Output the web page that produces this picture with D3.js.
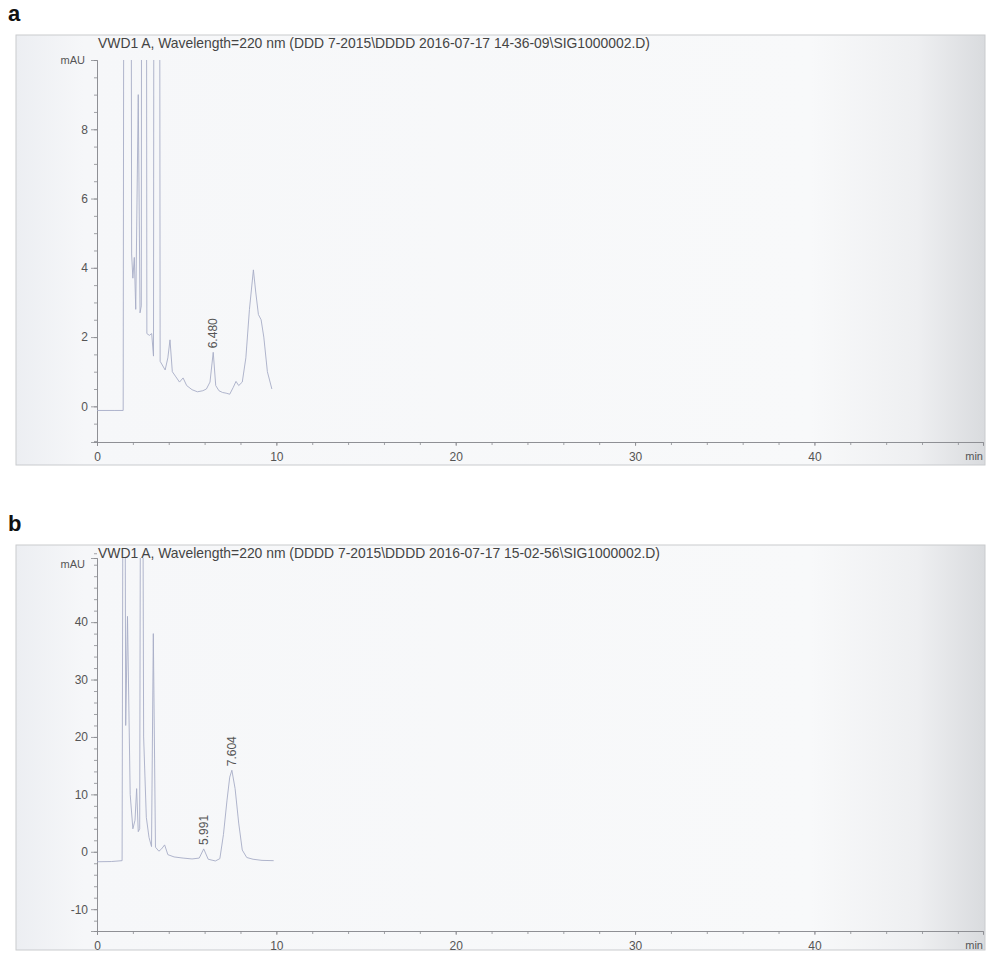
<!DOCTYPE html>
<html>
<head>
<meta charset="utf-8">
<title>Chromatograms</title>
<script src="https://cdn.jsdelivr.net/npm/d3@7"></script>
<style>
  body { margin: 0; background: #fff; }
  svg { display: block; font-family: "Liberation Sans", Arial, sans-serif; }
</style>
</head>
<body>
<div id="chart"></div>
<script>
// retention time (min), absorbance (mAU); values above the axis top are off-scale peaks
var traceA = [
  [0, -0.12], [1.0, -0.12], [1.46, -0.12], [1.70, 100], [1.93, 4.4], [2.0, 3.7],
  [2.08, 4.3], [2.16, 2.8], [2.30, 9.0], [2.40, 2.7], [2.47, 2.9], [2.60, 100],
  [2.78, 2.1], [2.92, 2.05], [3.05, 2.1], [3.15, 1.45], [3.32, 100], [3.52, 1.3],
  [3.8, 1.05], [3.95, 1.4], [4.07, 1.92], [4.2, 1.0], [4.4, 0.85], [4.6, 0.7],
  [4.8, 0.82], [5.0, 0.6], [5.3, 0.48], [5.6, 0.42], [5.9, 0.45], [6.1, 0.5],
  [6.3, 0.7], [6.48, 1.56], [6.62, 0.6], [6.8, 0.45], [7.0, 0.4], [7.2, 0.38],
  [7.4, 0.35], [7.6, 0.55], [7.75, 0.72], [7.9, 0.6], [8.1, 0.7], [8.3, 1.4],
  [8.5, 2.8], [8.72, 3.94], [8.85, 3.3], [9.0, 2.65], [9.15, 2.5], [9.3, 2.0],
  [9.5, 1.0], [9.75, 0.5]
];
var traceB = [
  [0, -1.74], [0.8, -1.7], [1.40, -1.55], [1.50, 150], [1.60, 22], [1.70, 41],
  [1.85, 10], [2.0, 4.0], [2.12, 5.5], [2.21, 11.0], [2.30, 3.5], [2.38, 4.0],
  [2.48, 150], [2.60, 20], [2.75, 6], [2.9, 2.5], [3.04, 0.9], [3.14, 38],
  [3.26, 0.8], [3.45, 0.1], [3.6, 0.5], [3.77, 1.2], [3.95, -0.5], [4.3, -0.9],
  [4.8, -1.1], [5.3, -1.25], [5.7, -1.1], [5.95, 0.5], [6.2, -1.3], [6.6, -1.6],
  [6.85, -1.2], [7.05, 3], [7.25, 9], [7.4, 13], [7.52, 14.2], [7.7, 11],
  [7.9, 5], [8.1, 0.3], [8.35, -1.0], [8.7, -1.3], [9.2, -1.5], [9.85, -1.55]
];
var peaksA = [{ t: 6.48, label: "6.480" }];
var peaksB = [{ t: 5.95, label: "5.991" }, { t: 7.52, label: "7.604" }];
var timeTicks = [0, 10, 20, 30, 40];
var yTicksA = [0, 2, 4, 6, 8];
var yTicksB = [-10, 0, 10, 20, 30, 40];
var titleA = "VWD1 A, Wavelength=220 nm (DDD 7-2015\\DDDD 2016-07-17 14-36-09\\SIG1000002.D)";
var titleB = "VWD1 A, Wavelength=220 nm (DDDD 7-2015\\DDDD 2016-07-17 15-02-56\\SIG1000002.D)";

var W = 987, H = 956;
var svg = d3.select("#chart").append("svg")
    .attr("width", W)
    .attr("height", H);

var defs = svg.append("defs");
var grad = defs.append("linearGradient")
    .attr("id", "paper")
    .attr("x1", "0").attr("x2", "1").attr("y1", "0").attr("y2", "0");
[[0, "#eceef2"], [0.07, "#f6f7f9"], [0.82, "#f8f9fa"], [0.93, "#eeeff1"], [1, "#d9dbde"]]
  .forEach(function(s) {
    grad.append("stop").attr("offset", s[0]).attr("stop-color", s[1]);
  });

function drawPanel(cfg) {
    var g = svg.append("g");

    // paper / frame
    g.append("rect")
        .attr("x", 16).attr("y", cfg.frameTop)
        .attr("width", 969).attr("height", cfg.frameBottom - cfg.frameTop)
        .style("fill", "url(#paper)")
        .style("stroke", "#c9cbce")
        .style("stroke-width", 1);

    svg.append("text")
        .attr("x", 8).attr("y", cfg.frameTop - 14)
        .style("font-size", "22px").style("font-weight", "bold")
        .style("fill", "#111")
        .text(cfg.letter);

    var x = d3.scaleLinear().domain([0, 49.4]).range([97, 983]);
    var y = d3.scaleLinear().domain(cfg.yDomain).range([cfg.bottom, cfg.top]);

    g.append("text")
        .attr("x", 98).attr("y", cfg.frameTop + 13)
        .style("font-size", "13.9px").style("fill", "#444")
        .text(cfg.title);

    // axes
    var fmt = function(d) { return String(d); };
    var yAxis = d3.axisLeft(y).tickValues(cfg.yTicks).tickSize(6).tickPadding(3).tickFormat(fmt);
    var yMinor = d3.axisLeft(y).tickValues(d3.range(cfg.yDomain[0], cfg.yDomain[1], cfg.yMinor)
        .map(function(v) { return Math.ceil(v / cfg.yMinor) * cfg.yMinor; }))
        .tickSize(3).tickFormat("");
    var xAxis = d3.axisBottom(x).tickValues(timeTicks).tickSize(4).tickPadding(6).tickFormat(fmt);
    var xMinor = d3.axisBottom(x).tickValues(d3.range(2, 49, 2)).tickSize(3).tickFormat("");

    [yMinor, yAxis].forEach(function(ax) {
        g.append("g").attr("transform", "translate(97,0)").call(ax);
    });
    [xMinor, xAxis].forEach(function(ax) {
        g.append("g").attr("transform", "translate(0," + cfg.bottom + ")").call(ax);
    });
    g.selectAll(".domain, .tick line").style("stroke", "#8a8c90").style("stroke-width", 0.8);
    g.selectAll(".tick text").style("font-size", "12px").style("fill", "#555")
        .style("font-family", "Liberation Sans, Arial, sans-serif");

    g.append("text")
        .attr("x", 85).attr("y", cfg.top + cfg.unitDy)
        .attr("text-anchor", "end")
        .style("font-size", "11px").style("fill", "#555")
        .text("mAU");
    g.append("text")
        .attr("x", 983).attr("y", cfg.bottom + 18)
        .attr("text-anchor", "end")
        .style("font-size", "11px").style("fill", "#555")
        .text("min");

    // trace
    defs.append("clipPath").attr("id", "clip" + cfg.letter)
      .append("rect")
        .attr("x", 97).attr("y", cfg.top)
        .attr("width", 886).attr("height", cfg.bottom - cfg.top);

    var line = d3.line()
        .x(function(d) { return x(d[0]); })
        .y(function(d) { return y(d[1]); });

    g.append("path")
        .datum(cfg.trace)
        .attr("clip-path", "url(#clip" + cfg.letter + ")")
        .attr("d", line)
        .style("fill", "none")
        .style("stroke", "#a7adc6")
        .style("stroke-width", 0.9);

    // peak retention time labels
    cfg.peaks.forEach(function(p) {
        var near = cfg.trace.filter(function(d) { return Math.abs(d[0] - p.t) < 0.15; });
        var apex = d3.max(near, function(d) { return d[1]; });
        var px = x(p.t), py = y(apex) - 4;
        g.append("text")
            .attr("transform", "translate(" + (px + 4) + "," + py + ") rotate(-90)")
            .style("font-size", "12px").style("fill", "#555")
            .text(p.label);
    });
}

drawPanel({
    letter: "a", title: titleA, trace: traceA, peaks: peaksA,
    frameTop: 35, frameBottom: 465, top: 60, bottom: 442, unitDy: 4,
    yDomain: [-1.03, 10], yTicks: yTicksA, yMinor: 0.5
});
drawPanel({
    letter: "b", title: titleB, trace: traceB, peaks: peaksB,
    frameTop: 545, frameBottom: 950, top: 558, bottom: 931, unitDy: 10,
    yDomain: [-13.8, 51.17], yTicks: yTicksB, yMinor: 2
});
</script>
</body>
</html>
